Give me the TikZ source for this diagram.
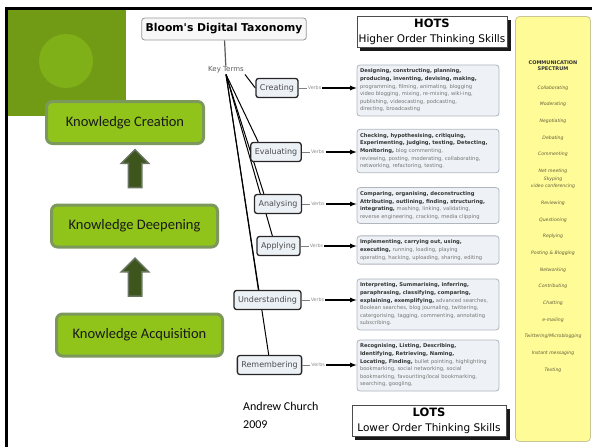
\documentclass[tikz,border=0pt]{standalone}
\usepackage{fontspec}
\setmainfont{Carlito}
\newfontfamily\bloomfont{DejaVu Sans}
\usetikzlibrary{shapes,arrows,positioning,backgrounds}

\definecolor{slidegreen}{RGB}{114,155,21}
\definecolor{circlegreen}{RGB}{128,176,24}
\definecolor{limefill}{RGB}{144,196,26}
\definecolor{limeedge}{RGB}{124,152,92}
\definecolor{arrowfill}{RGB}{62,86,30}
\definecolor{arrowedge}{RGB}{104,116,96}
\definecolor{termfill}{RGB}{236,241,246}
\definecolor{verbfill}{RGB}{238,242,246}
\definecolor{verbedge}{RGB}{175,182,190}
\definecolor{verbgrey}{RGB}{115,115,115}
\definecolor{spectrumfill}{RGB}{255,251,150}
\definecolor{spectrumedge}{RGB}{200,198,150}
\definecolor{spectrumtext}{RGB}{95,92,60}

\newcommand{\vb}[1]{\textbf{\color{black!80}#1}}

\begin{document}
\begin{tikzpicture}[x=1pt,y=-1pt,
  level/.style={draw=limeedge,line width=3pt,fill=limefill,rounded corners=6pt,minimum height=42pt,font=\fontsize{14.5}{17}\selectfont,text=black!90},
  uparrow/.style={single arrow,draw=arrowedge,line width=1.5pt,fill=arrowfill,rotate=90,minimum height=38pt,minimum width=27pt,single arrow head extend=7pt,inner sep=6pt},
  term/.style={draw=black!85,line width=1.3pt,fill=termfill,rounded corners=2.5pt,inner xsep=4pt,minimum height=19pt,font=\bloomfont\fontsize{8}{9}\selectfont,text=black!70},
  verbs/.style={font=\bloomfont\fontsize{4.8}{5}\selectfont,text=black!45,inner sep=1pt},
  verbbox/.style={draw=verbedge,line width=0.8pt,fill=verbfill,rounded corners=3pt,text width=136pt,align=left,inner xsep=3pt,inner ysep=4pt,font=\bloomfont\fontsize{5.2}{7.6}\selectfont,text=verbgrey},
  thinking/.style={draw=black!70,line width=0.6pt,fill=white,align=center,inner xsep=1pt,inner ysep=2pt,font=\bloomfont\fontsize{10.5}{15.5}\selectfont},
  ]
  \useasboundingbox (0,0) rectangle (592,447);

  % slide decoration
  \fill[slidegreen] (8,9) rectangle (126,116);
  \fill[circlegreen] (66,61) circle (27);
  \draw[line width=3pt] (6.5,447) -- (6.5,8) -- (592,8);

  % knowledge levels
  \node[level,minimum width=157pt] (create) at (125,122.5) {Knowledge Creation};
  \node[level,minimum width=166pt] (deep) at (134.5,226) {Knowledge Deepening};
  \node[level,minimum width=166pt] (acq) at (139.5,335) {Knowledge Acquisition};
  \node[uparrow] (up1) at (135,172) {};
  \node[uparrow] (up2) at (135,280.5) {};

  % Bloom's digital taxonomy
  \node[draw=black!40,line width=0.8pt,fill=black!3,rounded corners=3pt,minimum height=22pt,inner xsep=4pt,font=\bloomfont\bfseries\fontsize{10.8}{12}\selectfont] (title) at (224,29) {Bloom's Digital Taxonomy};
  \node[font=\bloomfont\fontsize{7}{8}\selectfont,text=black!65,inner sep=1pt] (keys) at (226,70) {Key Terms};
  \draw[black!65,line width=1.2pt] (title) -- (keys);

  \node[term] (cre) at (277,88) {Creating};
  \node[term] (eval) at (276,152) {Evaluating};
  \node[term] (anal) at (278,204) {Analysing};
  \node[term] (appl) at (278.5,246) {Applying};
  \node[term] (unde) at (267.5,300) {Understanding};
  \node[term] (reme) at (269.5,365) {Remembering};

  \node[verbbox] (creD) at (428,90.5) {\vb{Designing, constructing, planning,}\\\vb{producing, inventing, devising, making,}\\programming, filming, animating, blogging\\video blogging, mixing, re-mixing, wiki-ing,\\publishing, videocasting, podcasting,\\directing, broadcasting};
  \node[verbbox] (evalD) at (428,151) {\vb{Checking, hypothesising, critiquing,}\\\vb{Experimenting, judging, testing, Detecting,}\\\vb{Monitoring,} blog commenting,\\reviewing, posting, moderating, collaborating,\\networking, refactoring, testing.};
  \node[verbbox] (analD) at (428,205.5) {\vb{Comparing, organising, deconstructing}\\\vb{Attributing, outlining, finding, structuring,}\\\vb{integrating,} mashing, linking, validating,\\reverse engineering, cracking, media clipping};
  \node[verbbox] (applD) at (428,250) {\vb{Implementing, carrying out, using,}\\\vb{executing,} running, loading, playing\\operating, hacking, uploading, sharing, editing};
  \node[verbbox] (undeD) at (428,304.5) {\vb{Interpreting, Summarising, inferring,}\\\vb{paraphrasing, classifying, comparing,}\\\vb{explaining, exemplifying,} advanced searches,\\Boolean searches, blog journaling, twittering,\\catergorising, tagging, commenting, annotating\\subscribing.};
  \node[verbbox] (remeD) at (428,365.5) {\vb{Recognising, Listing, Describing,}\\\vb{Identifying, Retrieving, Naming,}\\\vb{Locating, Finding,} bullet pointing, highlighting\\bookmarking, social networking, social\\bookmarking, favouriting/local bookmarking,\\searching, googling.};

  \node[verbs,right=8pt of cre] (creV) {Verbs};
  \node[verbs,right=8pt of eval] (evalV) {Verbs};
  \node[verbs,right=8pt of anal] (analV) {Verbs};
  \node[verbs,right=8pt of appl] (applV) {Verbs};
  \node[verbs,right=8pt of unde] (undeV) {Verbs};
  \node[verbs,right=8pt of reme] (remeV) {Verbs};
  \draw[black!50] (cre) -- (creV);
  \draw[black!50] (eval) -- (evalV);
  \draw[black!50] (anal) -- (analV);
  \draw[black!50] (appl) -- (applV);
  \draw[black!50] (unde) -- (undeV);
  \draw[black!50] (reme) -- (remeV);
  \draw[-latex,line width=1.2pt] (creV) -- (creV -| creD.west);
  \draw[-latex,line width=1.2pt] (evalV) -- (evalV -| evalD.west);
  \draw[-latex,line width=1.2pt] (analV) -- (analV -| analD.west);
  \draw[-latex,line width=1.2pt] (applV) -- (applV -| applD.west);
  \draw[-latex,line width=1.2pt] (undeV) -- (undeV -| undeD.west);
  \draw[-latex,line width=1.2pt] (remeV) -- (remeV -| remeD.west);

  \node[thinking,minimum width=150pt,minimum height=31pt] (hots) at (432,32) {\textbf{\fontsize{11.5}{12}\selectfont HOTS}\\Higher Order Thinking Skills};
  \node[thinking,minimum width=154pt,minimum height=31pt] (lots) at (429,421) {\textbf{\fontsize{11.5}{12}\selectfont LOTS}\\Lower Order Thinking Skills};

  \begin{pgfonlayer}{background}
    \draw[line width=1pt] (keys.south east) -- (cre.west);
    \draw[line width=1pt] (keys.south) -- ([xshift=8pt]eval.north west);
    \draw[line width=1pt] (keys.south) -- ([xshift=10pt]anal.north west);
    \draw[line width=1pt] (keys.south) -- ([xshift=16pt]appl.north west);
    \draw[line width=1pt] (keys.south) -- ([xshift=25pt]unde.north west);
    \draw[line width=1pt] (keys.south) -- ([xshift=32pt]reme.north west);
    % shadows of the HOTS / LOTS boxes
    \fill[black!90] ([xshift=3.5pt,yshift=-3.5pt]hots.south west) rectangle ([xshift=3.5pt,yshift=-3.5pt]hots.north east);
    \fill[black!90] ([xshift=3.5pt,yshift=-3.5pt]lots.south west) rectangle ([xshift=3.5pt,yshift=-3.5pt]lots.north east);
  \end{pgfonlayer}

  % communication spectrum
  \node[draw=spectrumedge,line width=0.8pt,fill=spectrumfill,rounded corners=4pt,minimum width=75pt,minimum height=425pt] (specbox) at (553,229) {};
  \node[align=center,font=\bloomfont\bfseries\fontsize{5}{6}\selectfont,text=black!80] (spectitle) at (553,66) {COMMUNICATION\\SPECTRUM};
  \node[align=center,anchor=north,inner sep=0pt,font=\bloomfont\itshape\fontsize{4.6}{7.5}\selectfont,text=spectrumtext] (speclist) at (553,85.5) {Collaborating\\[9.2pt]Moderating\\[9.2pt]Negotiating\\[9.2pt]Debating\\[9.2pt]Commenting\\[9.2pt]Net meeting\\Skyping\\video conferencing\\[9.2pt]Reviewing\\[9.2pt]Questioning\\[9.2pt]Replying\\[9.2pt]Posting \& Blogging\\[9.2pt]Networking\\[9.2pt]Contributing\\[9.2pt]Chatting\\[9.2pt]e-mailing\\[9.2pt]Twittering/Microblogging\\[9.2pt]Instant messaging\\[9.2pt]Texting};

  \node[align=left,anchor=north west,inner sep=0pt,font=\fontsize{12}{18.4}\selectfont] (author) at (243,402) {Andrew Church\\2009};
\end{tikzpicture}
\end{document}
